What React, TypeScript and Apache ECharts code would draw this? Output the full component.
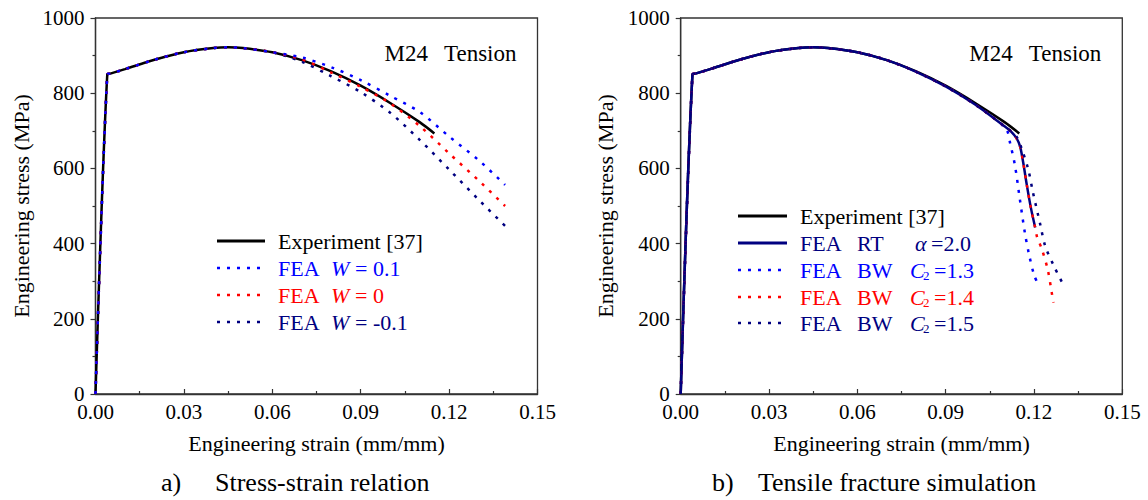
import React, { useEffect, useRef } from "react";
import * as echarts from "echarts";

// ---------- data ----------
// common elastic + hardening part (strain mm/mm, stress MPa)
const headStrain = [0, 0.004, 0.005, 0.01, 0.02, 0.03, 0.04, 0.045, 0.05, 0.06];
const headStress = [0, 850, 852, 864, 889, 909, 920, 922, 920, 909];

// Experiment [37]
const expStrain = [0.07, 0.08, 0.09, 0.1, 0.11, 0.115];
const expStress = [888, 858, 820, 774, 723, 693];

// (a) FEA with W
const w01Strain = [0.07, 0.08, 0.09, 0.1, 0.11, 0.12, 0.13, 0.139];
const w01Stress = [895, 869, 835, 793, 750, 685, 622, 556];
const w0Strain = [0.07, 0.08, 0.09, 0.1, 0.11, 0.12, 0.13, 0.139];
const w0Stress = [890, 855, 817, 773, 713, 640, 568, 500];
const wm01Strain = [0.07, 0.08, 0.09, 0.1, 0.11, 0.12, 0.13, 0.139];
const wm01Stress = [884, 845, 803, 748, 676, 597, 517, 447];

// (b) fracture simulation
const rtStrain = [0.07, 0.08, 0.09, 0.1, 0.11, 0.112, 0.1141, 0.1153, 0.1164, 0.1175, 0.1189, 0.1204];
const rtStress = [888, 857, 818, 770, 712, 700, 680, 658, 613, 559, 497, 443];
const bw13Strain = [0.07, 0.08, 0.09, 0.1, 0.1105, 0.1119, 0.1136, 0.1152, 0.1169, 0.1183, 0.1201, 0.1217];
const bw13Stress = [888, 857, 818, 770, 705, 667, 605, 518, 429, 372, 315, 288];
const bw14Strain = [0.07, 0.08, 0.09, 0.1, 0.11, 0.112, 0.1141, 0.1153, 0.1164, 0.1175, 0.1189, 0.1204, 0.1211, 0.1226, 0.1247, 0.126, 0.1266];
const bw14Stress = [888, 857, 818, 770, 712, 700, 680, 658, 613, 559, 497, 443, 416, 387, 330, 271, 243];
const bw15Strain = [0.07, 0.08, 0.09, 0.1, 0.11, 0.112, 0.1141, 0.1158, 0.1181, 0.1196, 0.1221, 0.1238, 0.1268, 0.13];
const bw15Stress = [888, 857, 818, 770, 712, 700, 684, 653, 596, 538, 452, 394, 340, 290];

const xTicks = [0, 0.03, 0.06, 0.09, 0.12, 0.15];
const yTicks = [0, 200, 400, 600, 800, 1000];

const xTitle = "Engineering strain (mm/mm)";
const yTitle = "Engineering stress (MPa)";
const specimen = ["M24", "Tension"];
const captions = [
  ["a)", "Stress-strain relation"],
  ["b)", "Tensile fracture simulation"],
];

const legendA = [
  { parts: ["Experiment [37]"], color: "#000000", dash: false },
  { parts: ["FEA", "W", "= 0.1"], color: "#0000ff", dash: true },
  { parts: ["FEA", "W", "= 0"], color: "#ff0000", dash: true },
  { parts: ["FEA", "W", "= -0.1"], color: "#000080", dash: true },
];
const legendB = [
  { parts: ["Experiment [37]"], color: "#000000", dash: false },
  { parts: ["FEA", "RT", "\u03b1", "", "=2.0"], color: "#000080", dash: false },
  { parts: ["FEA", "BW", "C", "2", "=1.3"], color: "#0000ff", dash: true },
  { parts: ["FEA", "BW", "C", "2", "=1.4"], color: "#ff0000", dash: true },
  { parts: ["FEA", "BW", "C", "2", "=1.5"], color: "#000080", dash: true },
];

// ---------- helpers ----------
const FONT = "Liberation Serif";
const BLUE = "#0000ff";
const RED = "#ff0000";
const NAVY = "#000080";
const DOT = [3, 7];

const zip = (xs: number[], ys: number[]) => xs.map((x, i) => [x, ys[i]]);
const full = (xs: number[], ys: number[]) =>
  zip(headStrain.concat(xs), headStress.concat(ys));

const G = [
  { left: 95.5, top: 18, width: 442, height: 376 },
  { left: 680.7, top: 18, width: 441.6, height: 376 },
];

function lineSeries(idx: number, data: number[][], color: string, dotted: boolean, width = 2.5, z = 2) {
  return {
    type: "line",
    xAxisIndex: idx,
    yAxisIndex: idx,
    data,
    symbol: "none",
    smooth: 0.3,
    z,
    lineStyle: { color, width, type: dotted ? DOT : "solid", cap: "butt" },
  };
}

function txt(x: number, y: number, text: string, opts: any = {}) {
  return {
    type: "text",
    x,
    y,
    rotation: opts.rotation || 0,
    style: {
      text,
      fill: opts.color || "#000",
      fontFamily: FONT,
      fontSize: opts.size || 22,
      fontStyle: opts.italic ? "italic" : "normal",
      align: opts.align || "left",
      verticalAlign: "middle",
    },
  };
}

function buildGraphic() {
  const els: any[] = [];
  G.forEach((g, i) => {
    const cx = g.left + g.width / 2;
    els.push(txt(cx, 443, xTitle, { align: "center", size: 22 }));
    els.push(
      txt(i === 0 ? 21 : 605, g.top + g.height / 2, yTitle, {
        align: "center",
        size: 22,
        rotation: Math.PI / 2,
      })
    );
    els.push(txt(g.left + g.width - 153, 53, specimen[0], { size: 23 }));
    els.push(txt(g.left + g.width - 21, 53, specimen[1], { size: 23, align: "right" }));
  });
  els.push(txt(161, 482, captions[0][0], { size: 26 }));
  els.push(txt(215, 482, captions[0][1], { size: 26 }));
  els.push(txt(712, 482, captions[1][0], { size: 26 }));
  els.push(txt(758, 482, captions[1][1], { size: 26 }));

  // legend (a)
  const rowsA = [241, 268, 295, 322];
  legendA.forEach((it, i) => {
    const y = rowsA[i];
    els.push({
      type: "line",
      shape: { x1: 217, y1: y, x2: 265, y2: y },
      style: { stroke: it.color, lineWidth: it.dash ? 2.5 : 3, lineDash: it.dash ? DOT : null },
    });
    els.push(txt(278, y, it.parts[0], { color: it.color }));
    if (it.parts.length > 1) {
      els.push(txt(331, y, it.parts[1], { color: it.color, italic: true }));
      els.push(txt(355, y, it.parts[2], { color: it.color }));
    }
  });

  // legend (b)
  const rowsB = [216, 243, 270, 297, 323];
  legendB.forEach((it, i) => {
    const y = rowsB[i];
    els.push({
      type: "line",
      shape: { x1: 738, y1: y, x2: 787, y2: y },
      style: { stroke: it.color, lineWidth: it.dash ? 2.5 : 3, lineDash: it.dash ? DOT : null },
    });
    els.push(txt(800, y, it.parts[0], { color: it.color }));
    if (it.parts.length > 1) {
      els.push(txt(857, y, it.parts[1], { color: it.color }));
      if (it.parts[3] === "") {
        els.push(txt(915, y, it.parts[2], { color: it.color, italic: true }));
        els.push(txt(931, y, it.parts[4], { color: it.color }));
      } else {
        els.push(txt(910, y, it.parts[2], { color: it.color, italic: true }));
        els.push(txt(923, y + 5, it.parts[3], { color: it.color, size: 13 }));
        els.push(txt(934, y, it.parts[4], { color: it.color }));
      }
    }
  });
  return els;
}

function makeAxes() {
  const xAxis = G.map((_, i) => ({
    type: "value",
    gridIndex: i,
    min: xTicks[0],
    max: xTicks[xTicks.length - 1],
    interval: xTicks[1] - xTicks[0],
    axisLine: { show: true, onZero: false, lineStyle: { color: "#333", width: 1.3 } },
    axisTick: { show: true, inside: true, length: 5, lineStyle: { color: "#333", width: 1.2 } },
    minorTick: { show: true, splitNumber: 2, length: 3, lineStyle: { color: "#333", width: 1.2 } },
    splitLine: { show: false },
    axisLabel: {
      color: "#000",
      fontFamily: FONT,
      fontSize: 21,
      margin: 7,
      formatter: (v: number) => v.toFixed(2),
    },
  }));
  const yAxis = G.map((_, i) => ({
    type: "value",
    gridIndex: i,
    min: yTicks[0],
    max: yTicks[yTicks.length - 1],
    interval: yTicks[1] - yTicks[0],
    axisLine: { show: true, onZero: false, lineStyle: { color: "#333", width: 1.3 } },
    axisTick: { show: true, inside: false, length: 5, lineStyle: { color: "#333", width: 1.2 } },
    minorTick: { show: true, splitNumber: 2, length: 3, lineStyle: { color: "#333", width: 1.2 } },
    splitLine: { show: false },
    axisLabel: {
      color: "#000",
      fontFamily: FONT,
      fontSize: 21,
      margin: 11,
      formatter: (v: number) => String(Math.round(v)),
    },
  }));
  return { xAxis, yAxis };
}

export default function App() {
  const ref = useRef<HTMLDivElement>(null);
  useEffect(() => {
    if (!ref.current) return;
    const chart = echarts.init(ref.current, null, { renderer: "svg" });
    const { xAxis, yAxis } = makeAxes();
    chart.setOption({
      animation: false,
      backgroundColor: "#ffffff",
      textStyle: { fontFamily: FONT },
      grid: G.map((g) => ({ ...g, show: true, borderColor: "#333", borderWidth: 1.3, backgroundColor: "transparent" })),
      xAxis,
      yAxis,
      series: [
        lineSeries(0, full(wm01Strain, wm01Stress), NAVY, true),
        lineSeries(0, full(w0Strain, w0Stress), RED, true),
        lineSeries(0, full(w01Strain, w01Stress), BLUE, true),
        lineSeries(0, full(expStrain, expStress), "#000", false, 2.5, 1),
        lineSeries(1, full(expStrain, expStress), "#000", false, 2.5, 1),
        lineSeries(1, full(rtStrain, rtStress), NAVY, false, 2.5, 2),
        lineSeries(1, full(bw13Strain, bw13Stress), BLUE, true, 2.5, 3),
        lineSeries(1, full(bw14Strain, bw14Stress), RED, true, 2.5, 3),
        lineSeries(1, full(bw15Strain, bw15Stress), NAVY, true, 2.5, 3),
      ],
      graphic: buildGraphic(),
    });
    return () => chart.dispose();
  }, []);
  return (
    <div
      ref={ref}
      style={{ position: "fixed", left: 0, top: 0, width: 1148, height: 500, background: "#fff" }}
    />
  );
}
